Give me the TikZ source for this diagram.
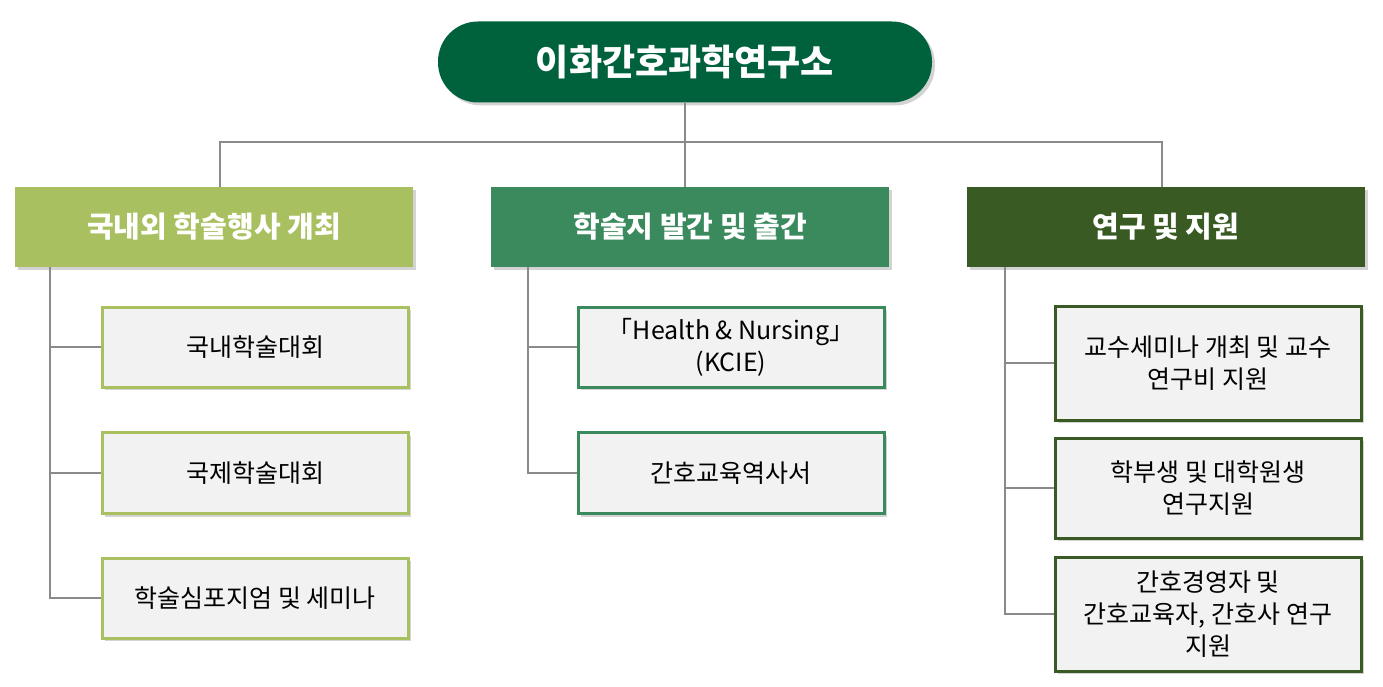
\documentclass[tikz,border=0pt]{standalone}
\usepackage{fontspec}
\newfontfamily\kr{Noto Sans CJK KR}
\usetikzlibrary{shadows}
\definecolor{topgreen}{HTML}{00613D}
\definecolor{catA}{HTML}{A8C060}
\definecolor{catB}{HTML}{3A8A5E}
\definecolor{catC}{HTML}{3A5A24}
\definecolor{subfill}{HTML}{F2F2F2}
\definecolor{linegray}{HTML}{8A8A8A}
\tikzset{
  catbox/.style={draw=none,minimum width=398pt,minimum height=80pt,text=white,
    font=\kr\fontsize{29}{34}\selectfont\bfseries,drop shadow={shadow xshift=3pt,shadow yshift=-3pt,opacity=.35}},
  subbox/.style={draw=#1,line width=3pt,fill=subfill,minimum width=306pt,align=center,
    font=\kr\fontsize{25}{32}\selectfont,drop shadow={shadow xshift=3pt,shadow yshift=-3pt,opacity=.35}},
  conn/.style={linegray,line width=2pt}
}
\begin{document}
\begin{tikzpicture}[x=1pt,y=-1pt]
\useasboundingbox (0,0) rectangle (1383,687);
% top
\node[fill=topgreen,rounded corners=40pt,minimum width=494pt,minimum height=81pt,text=white,
  font=\kr\fontsize{36}{40}\selectfont\bfseries,drop shadow={shadow xshift=3pt,shadow yshift=-3pt,opacity=.35}]
  (top) at (685,62) {이화간호과학연구소};

% categories
\node[catbox,fill=catA] (c1) at (214,227) {국내외 학술행사 개최};
\node[catbox,fill=catB] (c2) at (690,227) {학술지 발간 및 출간};
\node[catbox,fill=catC] (c3) at (1166,227) {연구 및 지원};

\coordinate (hub) at (685,142);
\draw[conn] (top.south) -- (hub);
\draw[conn] (c1.north -| 220,0) |- (hub) -| (c3.north -| 1162,0);
\draw[conn] (hub) -- (c2.north -| hub);

% column 1
\node[subbox=catA,minimum height=80pt] (s11) at (255,347) {국내학술대회};
\node[subbox=catA,minimum height=81pt] (s12) at (255,473) {국제학술대회};
\node[subbox=catA,minimum height=80pt] (s13) at (255,598) {학술심포지엄 및 세미나};
\coordinate (t1) at (50,267);
\draw[conn] (t1) |- (s13.west);
\draw[conn] (t1 |- s11.west) -- (s11.west);
\draw[conn] (t1 |- s12.west) -- (s12.west);

% column 2
\node[subbox=catB,minimum height=80pt] (s21) at (731,347) {「Health \& Nursing」\\(KCIE)};
\node[subbox=catB,minimum height=81pt] (s22) at (731,473) {간호교육역사서};
\coordinate (t2) at (528,267);
\draw[conn] (t2) |- (s22.west);
\draw[conn] (t2 |- s21.west) -- (s21.west);

% column 3
\node[subbox=catC,minimum height=114pt] (s31) at (1208,363) {교수세미나 개최 및 교수\\연구비 지원};
\node[subbox=catC,minimum height=100pt] (s32) at (1208,488) {학부생 및 대학원생\\연구지원};
\node[subbox=catC,minimum height=114pt] (s33) at (1208,614) {간호경영자 및\\간호교육자, 간호사 연구\\지원};
\coordinate (t3) at (1005,267);
\draw[conn] (t3) |- (s33.west);
\draw[conn] (t3 |- s31.west) -- (s31.west);
\draw[conn] (t3 |- s32.west) -- (s32.west);
\end{tikzpicture}
\end{document}
